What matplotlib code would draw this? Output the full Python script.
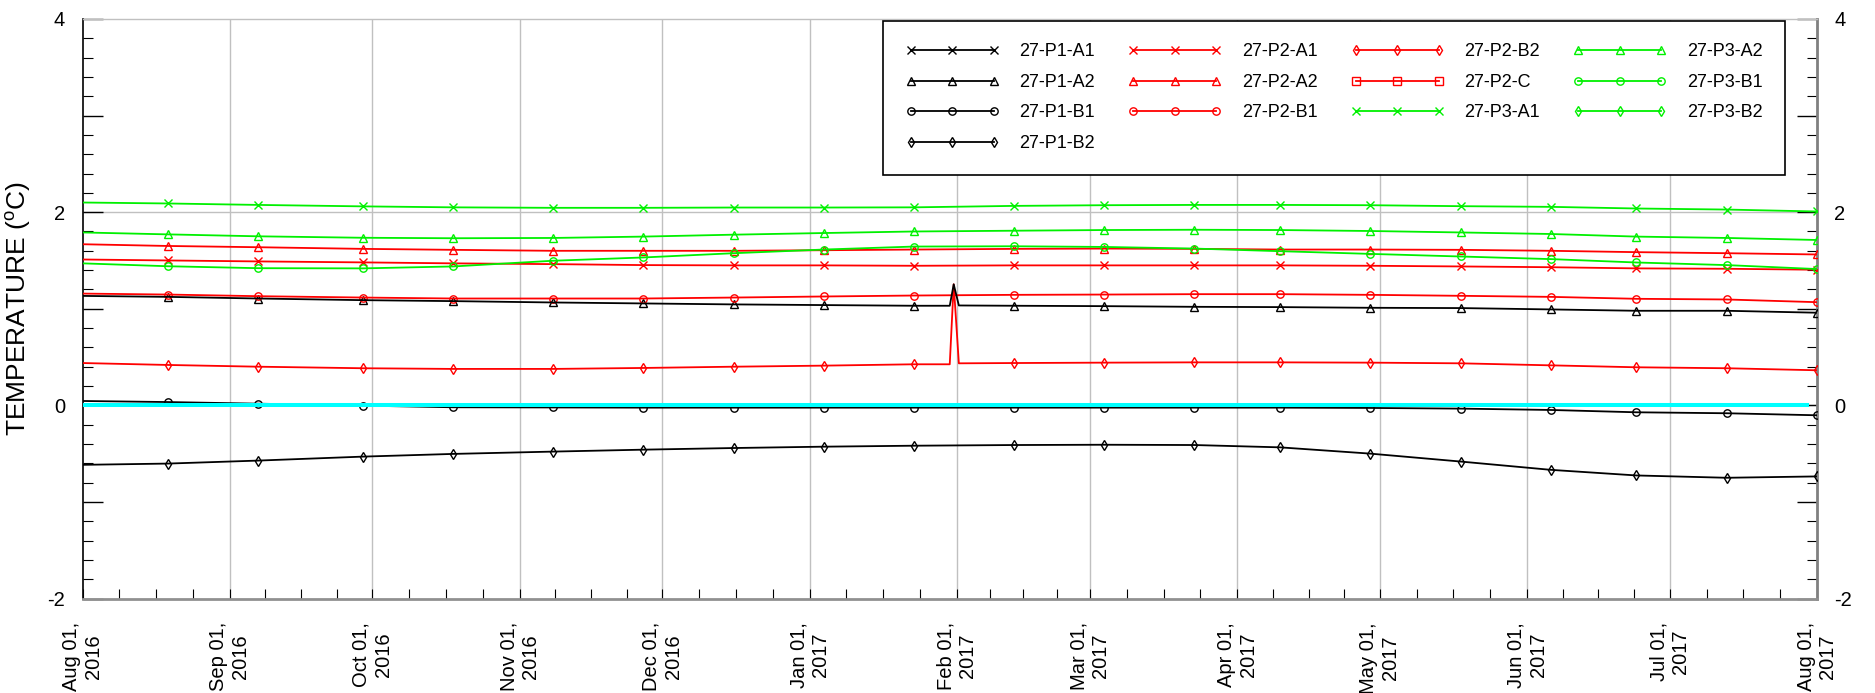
import numpy as np
import pandas as pd
import matplotlib
matplotlib.use("Agg")
import matplotlib.pyplot as plt
from matplotlib.lines import Line2D

plt.rcParams['font.family'] = ['Liberation Sans', 'DejaVu Sans']
plt.rcParams['mathtext.fontset'] = 'custom'
plt.rcParams['mathtext.rm'] = 'Liberation Sans'
plt.rcParams['axes.unicode_minus'] = False

# sample dates
dates = ['2016-08-01', '2016-08-19', '2016-09-07', '2016-09-29', '2016-10-18',
         '2016-11-08', '2016-11-27', '2016-12-16', '2017-01-04', '2017-01-23',
         '2017-02-13', '2017-03-04', '2017-03-23', '2017-04-10', '2017-04-29',
         '2017-05-18', '2017-06-06', '2017-06-24', '2017-07-13', '2017-08-01']

# short spike at the end of January (two sensors)
spike_dates = ['2017-01-30 12:00', '2017-01-31 08:00', '2017-02-01 10:00']

p1_a1 = []
p1_a2 = [1.133, 1.123, 1.106, 1.089, 1.079, 1.065, 1.055, 1.045, 1.038, 1.031,
         1.031, 1.027, 1.020, 1.017, 1.010, 1.007, 0.993, 0.979, 0.979, 0.959]
p1_a2_spike = [1.031, 1.253, 1.034]
p1_b1 = [0.045, 0.034, 0.017, -0.003, -0.020, -0.022, -0.024, -0.024, -0.024, -0.024,
         -0.024, -0.024, -0.024, -0.024, -0.027, -0.034, -0.048, -0.072, -0.082, -0.103]
p1_b2 = [-0.616, -0.603, -0.572, -0.531, -0.503, -0.479, -0.459, -0.442, -0.428, -0.418,
         -0.411, -0.408, -0.411, -0.435, -0.500, -0.582, -0.668, -0.726, -0.750, -0.736]

p2_a1 = [1.510, 1.500, 1.490, 1.480, 1.470, 1.462, 1.452, 1.449, 1.449, 1.445,
         1.449, 1.449, 1.449, 1.449, 1.445, 1.438, 1.430, 1.418, 1.414, 1.404]
p2_a2 = [1.668, 1.650, 1.637, 1.620, 1.610, 1.600, 1.600, 1.600, 1.606, 1.613,
         1.620, 1.623, 1.620, 1.613, 1.613, 1.610, 1.600, 1.586, 1.575, 1.562]
p2_b1 = [1.157, 1.147, 1.130, 1.116, 1.106, 1.106, 1.106, 1.116, 1.127, 1.137,
         1.144, 1.147, 1.151, 1.151, 1.144, 1.134, 1.123, 1.103, 1.096, 1.068]
p2_b2 = [0.438, 0.418, 0.400, 0.384, 0.377, 0.377, 0.387, 0.400, 0.411, 0.425,
         0.438, 0.442, 0.445, 0.445, 0.442, 0.435, 0.414, 0.394, 0.384, 0.363]
p2_b2_spike = [0.425, 1.253, 0.435]
p2_c = []

p3_a1 = [2.100, 2.090, 2.075, 2.060, 2.050, 2.045, 2.045, 2.048, 2.048, 2.050,
         2.065, 2.072, 2.075, 2.075, 2.072, 2.062, 2.055, 2.038, 2.027, 2.007]
p3_a2 = [1.790, 1.770, 1.750, 1.735, 1.730, 1.733, 1.747, 1.767, 1.784, 1.800,
         1.808, 1.815, 1.818, 1.815, 1.805, 1.790, 1.774, 1.747, 1.733, 1.712]
p3_b1 = [1.470, 1.440, 1.420, 1.418, 1.438, 1.497, 1.531, 1.575, 1.613, 1.644,
         1.647, 1.640, 1.623, 1.596, 1.568, 1.541, 1.514, 1.479, 1.452, 1.411]
p3_b2 = []

# 0 degC reference line
ref_dates = ['2016-08-01', '2017-07-30']
ref_vals = [0.0, 0.0]

RED = '#FF0000'
GREEN = '#00F000'
series = [
    ('27-P1-A1', p1_a1, None, 'black', 'x'),
    ('27-P1-A2', p1_a2, p1_a2_spike, 'black', '^'),
    ('27-P1-B1', p1_b1, None, 'black', 'o'),
    ('27-P1-B2', p1_b2, None, 'black', 'd'),
    ('27-P2-A1', p2_a1, None, RED, 'x'),
    ('27-P2-A2', p2_a2, None, RED, '^'),
    ('27-P2-B1', p2_b1, None, RED, 'o'),
    ('27-P2-B2', p2_b2, p2_b2_spike, RED, 'd'),
    ('27-P2-C', p2_c, None, RED, 's'),
    ('27-P3-A1', p3_a1, None, GREEN, 'x'),
    ('27-P3-A2', p3_a2, None, GREEN, '^'),
    ('27-P3-B1', p3_b1, None, GREEN, 'o'),
    ('27-P3-B2', p3_b2, None, GREEN, 'd'),
]

fig = plt.figure(figsize=(18.75, 6.93), dpi=100)
ax = fig.add_axes([82.5 / 1875, 94.5 / 693, 1734.5 / 1875, 579.5 / 693])

t = pd.to_datetime(dates)
handles = []
for name, vals, spike, color, marker in series:
    ms = 4.6 if marker == 'd' else 5.3
    if vals:
        y = np.array(vals)
        if spike is not None:
            # black spike sits on top of the red one
            z = 3.5 if color == 'black' else 3.2
            df = pd.DataFrame({'t': list(t) + list(pd.to_datetime(spike_dates)),
                               'v': list(vals) + list(spike)}).sort_values('t')
            ax.plot(df['t'], df['v'], color=color, lw=1.3, zorder=z)
        else:
            ax.plot(t, y, color=color, lw=1.3, zorder=3)
        ax.plot(t[1:], y[1:], ls='none', marker=marker, ms=ms, mfc='none',
                mec=color, mew=1.0, zorder=3)
    handles.append(Line2D([], [], color=color, lw=1.3, marker=marker, ms=ms,
                          mfc='none', mec=color, mew=1.0))

ax.plot(pd.to_datetime(ref_dates), ref_vals, color='#00FFFF', lw=2.9, zorder=4)

# axes ranges and ticks
months = pd.date_range('2016-08-01', '2017-08-01', freq='MS')
minor = []
for a, b in zip(months[:-1], months[1:]):
    for k in (1, 2, 3):
        minor.append(a + (b - a) * k / 4)
ax.set_xlim(months[0], months[-1])
ax.set_xticks(months)
ax.set_xticks(minor, minor=True)
ax.set_xticklabels([m.strftime('%b %d,\n%Y') for m in months], rotation=90,
                   multialignment='center')

ax.set_ylim(-2, 4)
ax.set_yticks(range(-2, 5))
ax.set_yticklabels(['-2', '', '0', '', '2', '', '4'])
ax.set_yticks(np.arange(-2, 4.01, 0.2), minor=True)

ax.tick_params(axis='y', which='major', direction='in', length=14.4, width=1,
               left=True, right=True, labelleft=True, labelright=True,
               labelsize=14.5, pad=12.5)
ax.tick_params(axis='y', which='minor', direction='in', length=7.2, width=0.8,
               left=True, right=True)
ax.tick_params(axis='x', which='both', direction='in', length=7.2, width=0.8,
               top=False, labelsize=14.5, pad=17)

for m in months[1:-1]:
    ax.axvline(m, color='#c0c0c0', lw=1.0, zorder=1)
ax.axhline(2, color='#c0c0c0', lw=1.0, zorder=1)
ax.axhline(0, color='#c0c0c0', lw=1.0, zorder=1)

ax.spines['left'].set_color('black')
ax.spines['left'].set_linewidth(1.2)
ax.spines['right'].set_color('#808080')
ax.spines['right'].set_linewidth(2.0)
ax.spines['top'].set_color('#c0c0c0')
ax.spines['top'].set_linewidth(1.0)
ax.spines['bottom'].set_color('#909090')
ax.spines['bottom'].set_linewidth(2.0)

ax.set_ylabel(r'TEMPERATURE ($^{\mathrm{o}}$C)', fontsize=19)
ax.yaxis.set_label_coords(-0.0285, 0.5)

# legend spans a fixed width, columns spread out to fill it
leg = ax.legend(handles, [s[0] for s in series], ncol=4, loc='upper left',
                bbox_to_anchor=(0.4615, 0.5, 0.520, 0.497), mode='expand',
                borderaxespad=0, fontsize=13,
                handlelength=5.2, handletextpad=1.1, columnspacing=1.3,
                borderpad=1.25, labelspacing=0.75, numpoints=3,
                fancybox=False, edgecolor='black', framealpha=1)
leg.get_frame().set_linewidth(1.2)
leg.set_zorder(5)

fig.savefig('out.png', dpi=100)
